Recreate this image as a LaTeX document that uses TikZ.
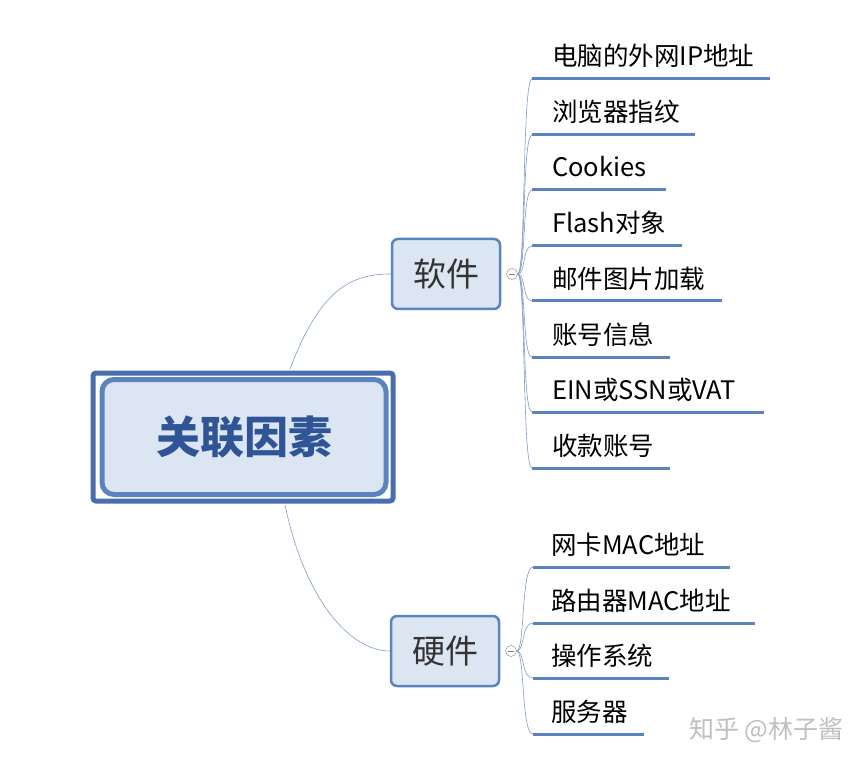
\documentclass[tikz,border=0pt]{standalone}
\usepackage{fontspec}
\newfontfamily\cjk{Noto Sans CJK SC}
\newfontfamily\cjkb{Noto Sans CJK SC Black}
\definecolor{bd}{HTML}{5B84BE}
\definecolor{bdo}{HTML}{4A6EAD}
\definecolor{fl}{HTML}{DCE6F2}
\definecolor{tx}{HTML}{2F5597}
\definecolor{ln}{HTML}{7F9CC6}
\tikzset{x=1pt,y=-1pt,
 sub/.style={draw=bd,line width=2.5pt,fill=fl,rounded corners=6pt,minimum width=108pt,minimum height=70pt,font=\cjk\fontsize{33}{36}\selectfont,text=black!80},
 leaf/.style={anchor=base west,font=\cjk\fontsize{25.5}{28}\selectfont,inner sep=0pt},
 uline/.style={draw=bd,line width=3pt},
 conn/.style={draw=ln,line width=0.6pt},
 tog/.style={circle,draw=gray,minimum size=11pt,inner sep=0pt,fill=white}}
\begin{document}
\begin{tikzpicture}
\useasboundingbox (0,0) rectangle (868,762);
\node[draw=bdo,line width=5pt,rounded corners=3pt,minimum width=300pt,minimum height=128pt] (rootout) at (243,437) {};
\node[draw=bd,line width=5pt,fill=fl,rounded corners=12pt,minimum width=284pt,minimum height=115pt,font=\cjkb\fontsize{44}{48}\selectfont,text=tx] (root) at (244,437) {关联因素};
\node[sub] (sw) at (446,274) {软件};
\node[sub] (hw) at (445,651) {硬件};
\draw[conn] (290,369) .. controls (320,290) and (350,274) .. (sw.west);
\draw[conn] (285,505) .. controls (305,600) and (350,651) .. (hw.west);
\node[tog] (tsw) at (512,274) {};
\node[tog] (thw) at (511,651) {};
\draw[gray,line width=0.8pt] (tsw.west)++(3,0) -- ++(6,0);
\draw[gray,line width=0.8pt] (thw.west)++(3,0) -- ++(6,0);
\foreach \t/\y/\e [count=\i] in {电脑的外网IP地址/79/770,浏览器指纹/135/695,Cookies/190/666,Flash对象/246/682,邮件图片加载/301/722,账号信息/357/670,EIN或SSN或VAT/412/764,收款账号/468/670}{
  \coordinate (s\i) at (532,\y);
  \coordinate (se\i) at (\e,\y);
  \draw[uline] (s\i) -- (se\i);
  \node[leaf] (sl\i) at (552,\y-13) {\t};
  \draw[conn] (tsw.east) .. controls (526,274) and (522,\y) .. (s\i);
}
\foreach \t/\y/\e [count=\i] in {网卡MAC地址/567/730,路由器MAC地址/623/755,操作系统/678/669,服务器/734/644}{
  \coordinate (h\i) at (533,\y);
  \coordinate (he\i) at (\e,\y);
  \draw[uline] (h\i) -- (he\i);
  \node[leaf] (hl\i) at (551,\y-13) {\t};
  \draw[conn] (thw.east) .. controls (525,651) and (521,\y) .. (h\i);
}
\node[font=\cjk\fontsize{25}{28}\selectfont,text=black!25,anchor=base east] (wm) at (847,738) {知乎 @林子酱};
\end{tikzpicture}
\end{document}
